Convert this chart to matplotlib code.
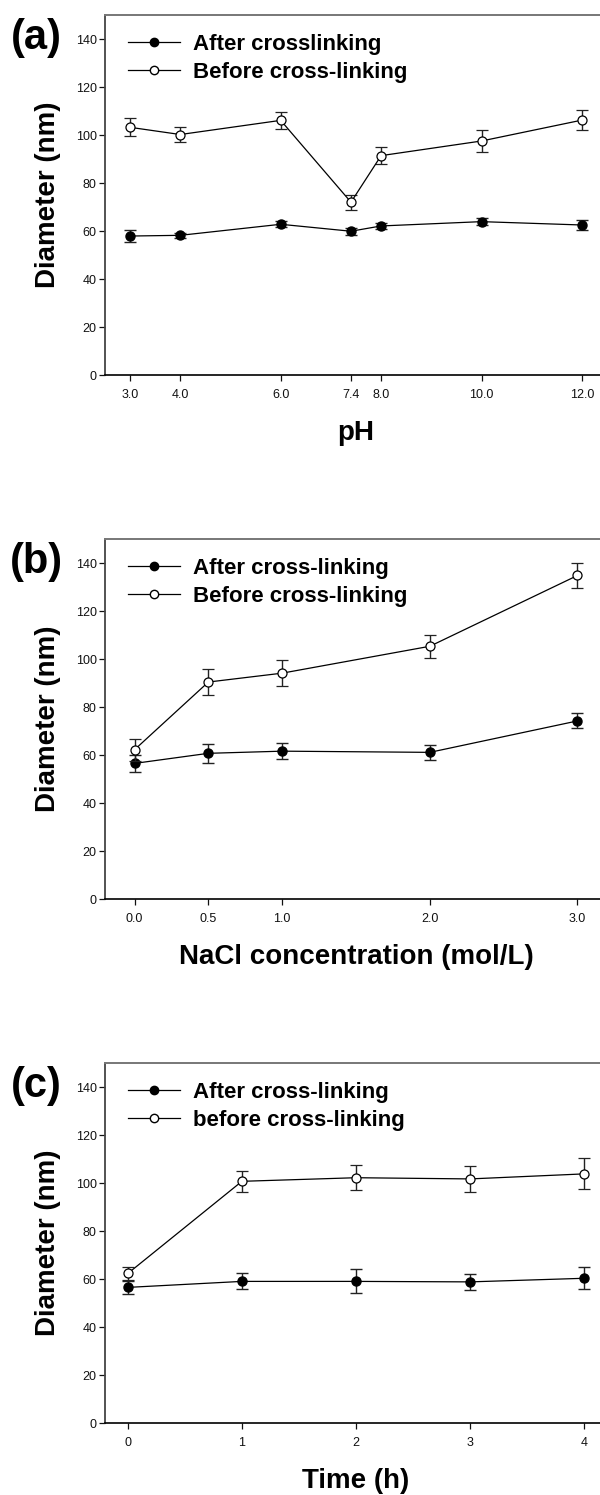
import numpy as np
import matplotlib
matplotlib.use('Agg')
import matplotlib.pyplot as plt
from matplotlib.lines import Line2D

plt.rcParams['font.family'] = ['Liberation Sans', 'DejaVu Sans']

# (a) particle size vs pH
ph = [3.0, 4.0, 6.0, 7.4, 8.0, 10.0, 12.0]
ph_labels = ['3.0', '4.0', '6.0', '7.4', '8.0', '10.0', '12.0']
ph_after = [57.9, 58.2, 62.8, 59.9, 62.1, 63.9, 62.5]
ph_after_err = [2.5, 1.1, 1.3, 1.4, 1.4, 1.4, 2.2]
ph_before = [103.2, 100.2, 106.1, 72.0, 91.4, 97.5, 106.2]
ph_before_err = [3.7, 3.1, 3.4, 3.2, 3.5, 4.7, 4.2]

# (b) particle size vs NaCl concentration
nacl = [0.0, 0.5, 1.0, 2.0, 3.0]
nacl_labels = ['0.0', '0.5', '1.0', '2.0', '3.0']
nacl_after = [56.5, 60.7, 61.6, 61.1, 74.2]
nacl_after_err = [3.5, 3.9, 3.3, 3.1, 3.1]
nacl_before = [62.2, 90.4, 94.1, 105.3, 134.8]
nacl_before_err = [4.6, 5.4, 5.3, 4.7, 5.1]

# (c) particle size vs time
hours = [0, 1, 2, 3, 4]
hour_labels = ['0', '1', '2', '3', '4']
time_after = [56.5, 59.0, 59.0, 58.8, 60.3]
time_after_err = [2.8, 3.3, 5.0, 3.3, 4.5]
time_before = [62.3, 100.7, 102.2, 101.7, 103.8]
time_before_err = [2.7, 4.4, 5.2, 5.3, 6.5]

panels = [
    dict(tag='(a)', x=ph, xt=ph_labels, xlim=(2.5, 12.5), xlabel='pH',
         after=ph_after, after_err=ph_after_err,
         before=ph_before, before_err=ph_before_err,
         names=['After crosslinking', 'Before cross-linking'], bottom=375),
    dict(tag='(b)', x=nacl, xt=nacl_labels, xlim=(-0.2, 3.2),
         xlabel='NaCl concentration (mol/L)',
         after=nacl_after, after_err=nacl_after_err,
         before=nacl_before, before_err=nacl_before_err,
         names=['After cross-linking', 'Before cross-linking'], bottom=899),
    dict(tag='(c)', x=hours, xt=hour_labels, xlim=(-0.2, 4.2), xlabel='Time (h)',
         after=time_after, after_err=time_after_err,
         before=time_before, before_err=time_before_err,
         names=['After cross-linking', 'before cross-linking'], bottom=1423),
]

W, H = 600, 1495
fig = plt.figure(figsize=(W / 100, H / 100), dpi=100)

for p in panels:
    ax = fig.add_axes([105 / W, 1 - p['bottom'] / H, 502 / W, 360 / H])
    ax.errorbar(p['x'], p['after'], yerr=p['after_err'], color='black',
                ecolor='#222222', elinewidth=1.0, capsize=4, capthick=1.0,
                lw=0.9, marker='o', ms=6.5, mfc='black', mec='black',
                zorder=3)
    ax.errorbar(p['x'], p['before'], yerr=p['before_err'], color='black',
                ecolor='#222222', elinewidth=1.0, capsize=4, capthick=1.0,
                lw=0.9, marker='o', ms=6.5, mfc='white', mec='black', mew=0.9,
                zorder=4)

    ax.set_xlim(*p['xlim'])
    ax.set_ylim(0, 150)
    ax.set_xticks(p['x'])
    ax.set_xticklabels(p['xt'])
    ax.set_yticks(np.arange(0, 141, 20))

    ax.tick_params(direction='out', length=4, width=0.9, labelsize=9,
                   top=False, right=False, colors='#111111')
    ax.tick_params(axis='x', pad=6)
    ax.tick_params(axis='y', pad=2)
    ax.spines['bottom'].set_linewidth(1.2)
    ax.spines['bottom'].set_color('black')
    ax.spines['left'].set_linewidth(1.3)
    ax.spines['left'].set_color('#444444')
    for side in ['top', 'right']:
        ax.spines[side].set_linewidth(1.4)
        ax.spines[side].set_color('#777777')

    ax.set_ylabel('Diameter (nm)', fontsize=20, fontweight='bold')
    ax.yaxis.set_label_coords(-0.087, 0.5)
    ax.set_xlabel(p['xlabel'], fontsize=20, fontweight='bold')
    ax.xaxis.set_label_coords(0.5, -0.125)

    # legend shows line + marker only, no error bars
    handles = [
        Line2D([], [], color='black', lw=0.9, marker='o', ms=6, mfc='black', mec='black'),
        Line2D([], [], color='black', lw=0.9, marker='o', ms=6, mfc='white', mec='black'),
    ]
    ax.legend(handles, p['names'], loc='upper left', bbox_to_anchor=(0.046, 0.947),
              frameon=False, prop={'size': 16, 'weight': 'bold'},
              handlelength=2.35, handletextpad=0.55, labelspacing=0.3,
              borderpad=0, borderaxespad=0)

    ax.text(-0.137, 0.936, p['tag'], transform=ax.transAxes, ha='center',
            va='center', fontsize=30, fontweight='bold',
            family=['Liberation Sans Narrow', 'Liberation Sans'])

fig.savefig('out.png', dpi=100)
